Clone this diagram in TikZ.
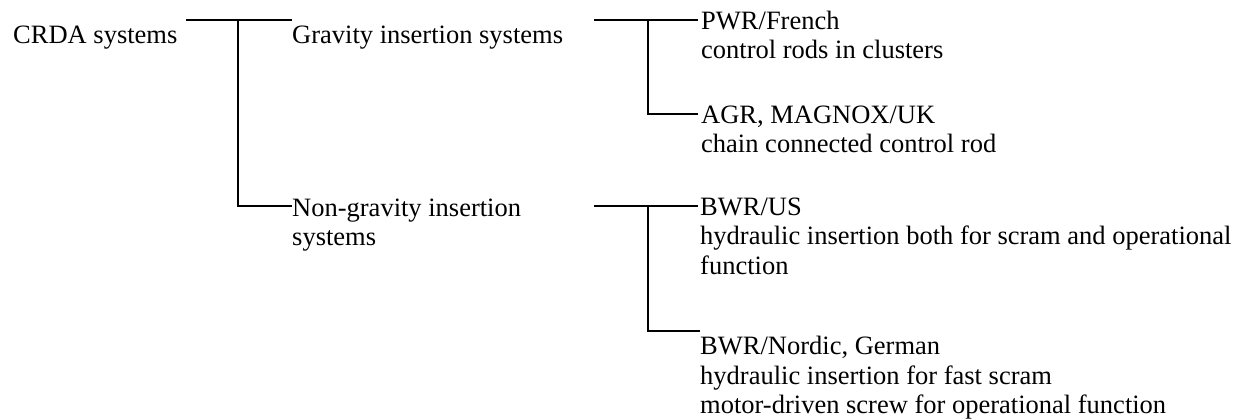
\documentclass[tikz,border=0pt]{standalone}
\usepackage{fontspec}
\setmainfont{Liberation Serif}
\begin{document}
\begin{tikzpicture}[x=1pt,y=-1pt,
  lbl/.style={anchor=base west,inner sep=0pt,align=left,
              font=\fontsize{26.5}{29.5}\selectfont},
  wire/.style={line width=1.8pt}]
\useasboundingbox (0,0) rectangle (1238,418);

% tree labels (anchored at the baseline of their last line)
\node[lbl] (crda)  at (13,43)    {CRDA systems};
\node[lbl] (grav)  at (292,43)   {Gravity insertion systems};
\node[lbl] (ngrav) at (292,245.5){Non-gravity insertion\\systems};
\node[lbl] (pwr)   at (701,58.5) {PWR/French\\control rods in clusters};
\node[lbl] (agr)   at (701,152.5){AGR, MAGNOX/UK\\chain connected control rod};
\node[lbl] (bwrus) at (700,274)  {BWR/US\\hydraulic insertion both for scram and operational\\function};
\node[lbl] (bwrn)  at (700,413.5){BWR/Nordic, German\\hydraulic insertion for fast scram\\motor-driven screw for operational function};

% first level
\coordinate (a0) at (186,20);
\coordinate (a1) at (238,20);
\coordinate (a2) at (292,20);
\coordinate (a3) at (292,206);
\draw[wire] (a0) -- (a2);
\draw[wire] (a1) |- (a3);

% gravity branch
\coordinate (b0) at (594,20);
\coordinate (b1) at (648,20);
\coordinate (b2) at (698,20);
\coordinate (b3) at (698,114);
\draw[wire] (b0) -- (b2);
\draw[wire] (b1) |- (b3);

% non-gravity branch
\coordinate (c0) at (594,206);
\coordinate (c1) at (648,206);
\coordinate (c2) at (698,206);
\coordinate (c3) at (700,331);
\draw[wire] (c0) -- (c2);
\draw[wire] (c1) |- (c3);
\end{tikzpicture}
\end{document}
